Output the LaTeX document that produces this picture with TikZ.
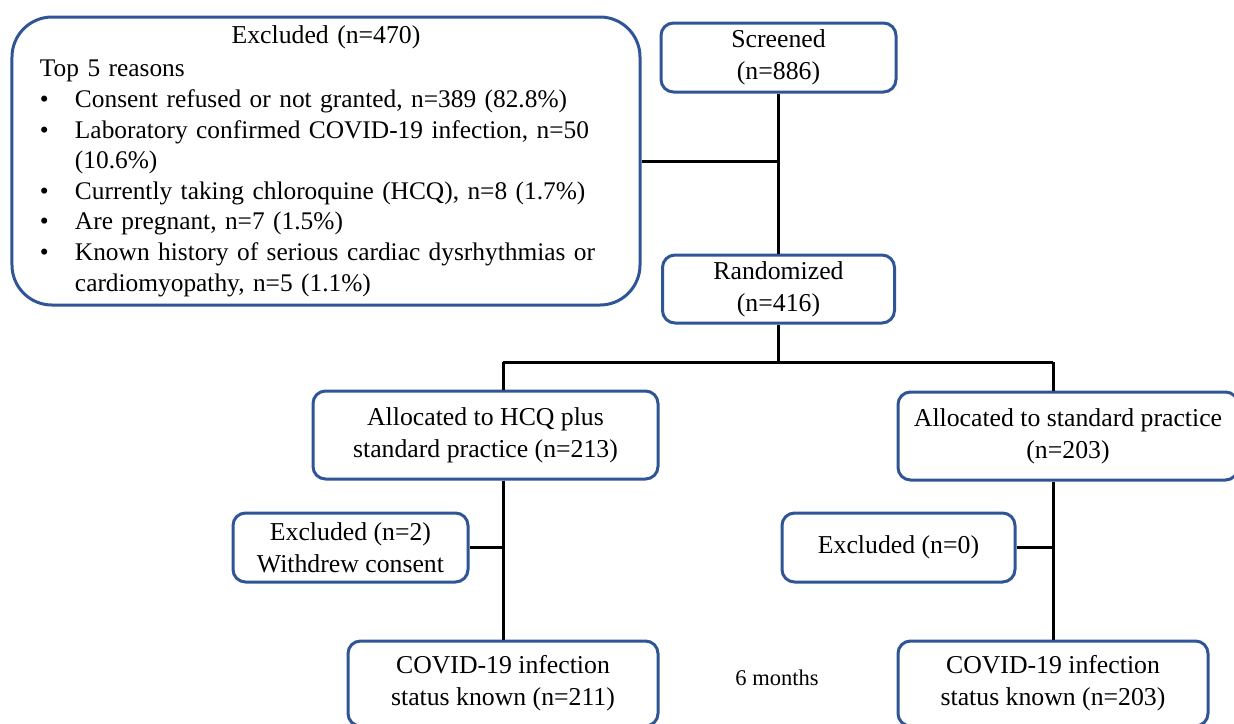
\documentclass[tikz,border=0pt]{standalone}
\usepackage{fontspec}
\setmainfont{Liberation Serif}
\usetikzlibrary{shapes}
\definecolor{boxblue}{RGB}{47,85,151}
\tikzstyle{box} = [rectangle, rounded corners=5pt, draw=boxblue, line width=1.2pt, fill=white, align=center, inner sep=0pt, font=\fontsize{10.3}{12.8}\selectfont]
\tikzstyle{line} = [draw, line width=1.2pt]
\newcommand{\itembul}{\makebox[14pt][l]{\textbullet}}
\newcommand{\itemcont}{\hspace*{14pt}}

\begin{document}
\begin{tikzpicture}[x=0.4pt, y=-0.4pt]
		\useasboundingbox (0,0) rectangle (1234,723);
		\node[box, rounded corners=16pt, minimum width=251.2pt, minimum height=115.2pt, text width=228.8pt, align=left, font=\fontsize{10.15}{12.24}\selectfont] (exc) at (326,161) {\vspace*{1.2pt}{\centering\fontsize{10.3}{12.24}\selectfont Excluded (n=470)\par}Top 5 reasons\\
			\itembul Consent refused or not granted, n=389 (82.8\%)\\
			\itembul Laboratory confirmed COVID-19 infection, n=50\\
			\itemcont (10.6\%)\\
			\itembul Currently taking chloroquine (HCQ), n=8 (1.7\%)\\
			\itembul Are pregnant, n=7 (1.5\%)\\
			\itembul Known history of serious cardiac dysrhythmias or\\
			\itemcont cardiomyopathy, n=5 (1.1\%)};
		\node[box, minimum width=94pt, minimum height=27.6pt] (scr) at (778.5,57.5) {Screened\\(n=886)};
		\node[box, minimum width=92.8pt, minimum height=27.2pt] (rnd) at (778.5,289) {Randomized\\(n=416)};
		\node[box, minimum width=138pt, minimum height=35.2pt] (hcq) at (485.5,435) {Allocated to HCQ plus\\standard practice (n=213)};
		\node[box, minimum width=136pt, minimum height=35.2pt] (std) at (1068,436) {Allocated to standard practice\\(n=203)};
		\node[box, minimum width=94pt, minimum height=27.6pt] (ex2) at (350.5,547.5) {Excluded (n=2)\\Withdrew consent};
		\node[box, minimum width=93.2pt, minimum height=27.6pt] (ex0) at (898.5,547.5) {Excluded (n=0)};
		\node[box, minimum width=124pt, minimum height=34pt] (out1) at (503,683.5) {COVID-19 infection\\status known (n=211)};
		\node[box, minimum width=124pt, minimum height=34pt] (out2) at (1053,683.5) {COVID-19 infection\\status known (n=203)};
		\node[font=\fontsize{9}{11}\selectfont] (six) at (777,678) {6 months};

		\coordinate (split) at (778.5,362);
		\coordinate (lsplit) at (out1.north |- split);
		\coordinate (rsplit) at (out2.north |- split);
		\path [line] (scr.south) -- (rnd.north);
		\path [line] (exc.east) -- (exc.east -| scr.south);
		\path [line] (rnd.south) -- (split);
		\path [line] (lsplit) -- (rsplit);
		\path [line] (lsplit) -- (lsplit |- hcq.north);
		\path [line] (rsplit) -- (rsplit |- std.north);
		\path [line] (lsplit |- hcq.south) -- (out1.north);
		\path [line] (rsplit |- std.south) -- (out2.north);
		\path [line] (ex2.east) -- (ex2.east -| out1.north);
		\path [line] (ex0.east) -- (ex0.east -| out2.north);
	\end{tikzpicture}
\end{document}
